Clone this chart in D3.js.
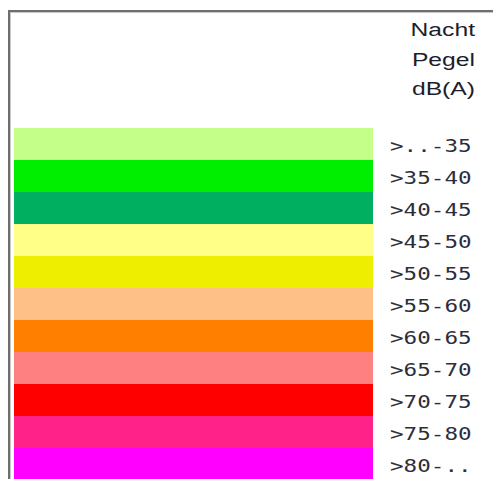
<!DOCTYPE html>
<html>
<head>
<meta charset="utf-8">
<script src="https://cdn.jsdelivr.net/npm/d3@7"></script>
<style>
  html, body { margin: 0; padding: 0; background: #fff; }
  svg { display: block; }
</style>
</head>
<body>
<svg id="chart" width="493" height="479"></svg>
<script>
// legend classes for night noise level
var title = ["Nacht", "Pegel", "dB(A)"];
var classes = [">..-35", ">35-40", ">40-45", ">45-50", ">50-55", ">55-60",
  ">60-65", ">65-70", ">70-75", ">75-80", ">80-.."];
var palette = ["#c4ff8a", "#00ee00", "#00b060", "#ffff88", "#eeee00", "#ffc088",
  "#ff8000", "#ff8080", "#ff0000", "#ff2288", "#ff00ff"];

var svg = d3.select("#chart"),
  width = +svg.attr("width"),
  height = +svg.attr("height");

var y = d3.scaleBand()
  .domain(classes)
  .range([128, 128 + 32 * classes.length])
  .padding(0);

var x = d3.scaleLinear()
  .domain([0, 1])
  .range([14, 373]);

var color = d3.scaleOrdinal()
  .domain(classes)
  .range(palette);

// frame, top and left edge only
svg.append("line")
  .attr("x1", 8).attr("x2", width)
  .attr("y1", 11).attr("y2", 11)
  .attr("stroke", "#6e6e6e").attr("stroke-width", 2);
svg.append("line")
  .attr("x1", 10).attr("x2", width)
  .attr("y1", 12.5).attr("y2", 12.5)
  .attr("stroke", "#c8c8c8").attr("stroke-width", 1);
svg.append("line")
  .attr("x1", 9).attr("x2", 9)
  .attr("y1", 10).attr("y2", height)
  .attr("stroke", "#6e6e6e").attr("stroke-width", 2);
svg.append("line")
  .attr("x1", 10.5).attr("x2", 10.5)
  .attr("y1", 12).attr("y2", height)
  .attr("stroke", "#c8c8c8").attr("stroke-width", 1);

// header
svg.append("g")
  .selectAll("text")
  .data(title)
  .enter().append("text")
  .attr("transform", function (d, i) { return "translate(475," + (36 + i * 29.5) + ") scale(1.3,1)"; })
  .attr("text-anchor", "end")
  .attr("font-family", "Liberation Sans, Arial, sans-serif")
  .attr("font-size", 19)
  .attr("fill", "#1e1e2a")
  .text(function (d) { return d; });

// bars
svg.append("g")
  .selectAll("rect")
  .data(classes)
  .enter().append("rect")
  .attr("x", x(0))
  .attr("y", function (d) { return y(d); })
  .attr("width", x(1) - x(0))
  .attr("height", y.bandwidth())
  .attr("fill", function (d) { return color(d); });

// labels
svg.append("g")
  .selectAll("text")
  .data(classes)
  .enter().append("text")
  .attr("transform", function (d) { return "translate(390," + (y(d) + y.bandwidth() / 2 + 8) + ") scale(1.33,1)"; })
  .attr("font-family", "DejaVu Sans Mono, monospace")
  .attr("font-size", 17)
  .attr("fill", "#2e2e3a")
  .text(function (d) { return d; });
</script>
</body>
</html>
